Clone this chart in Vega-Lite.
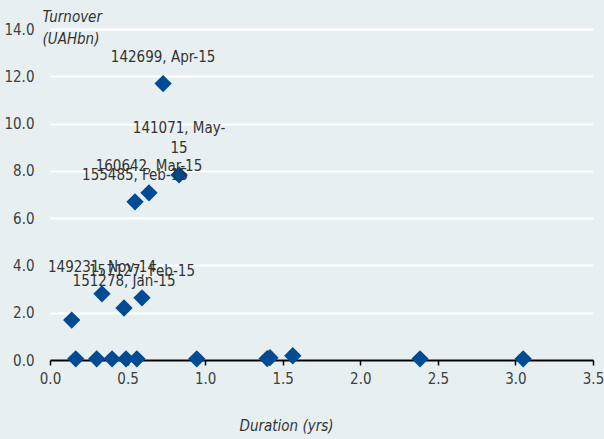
{
  "$schema": "https://vega.github.io/schema/vega-lite/v6.json",
  "width": 543,
  "height": 331,
  "autosize": "none",
  "padding": {"left": 50, "top": 29, "right": 11, "bottom": 79},
  "background": "#e7eff1",
  "config": {
    "view": {"stroke": null},
    "font": "DejaVu Sans Condensed"
  },
  "data": {
    "values": [
      {"duration": 0.14, "turnover": 1.69, "label": ""},
      {"duration": 0.335, "turnover": 2.8, "label": "149231, Nov-14"},
      {"duration": 0.477, "turnover": 2.2, "label": "151278, Jan-15"},
      {"duration": 0.593, "turnover": 2.63, "label": "157127, Feb-15"},
      {"duration": 0.548, "turnover": 6.69, "label": "155485, Feb-15"},
      {"duration": 0.638, "turnover": 7.07, "label": "160642, Mar-15"},
      {"duration": 0.832, "turnover": 7.83, "label": "141071, May-\n15"},
      {"duration": 0.729, "turnover": 11.69, "label": "142699, Apr-15"},
      {"duration": 0.166, "turnover": 0.05, "label": ""},
      {"duration": 0.301, "turnover": 0.05, "label": ""},
      {"duration": 0.40, "turnover": 0.05, "label": ""},
      {"duration": 0.49, "turnover": 0.05, "label": ""},
      {"duration": 0.56, "turnover": 0.05, "label": ""},
      {"duration": 0.946, "turnover": 0.05, "label": ""},
      {"duration": 1.40, "turnover": 0.06, "label": ""},
      {"duration": 1.418, "turnover": 0.1, "label": ""},
      {"duration": 1.565, "turnover": 0.18, "label": ""},
      {"duration": 2.385, "turnover": 0.05, "label": ""},
      {"duration": 3.05, "turnover": 0.05, "label": ""}
    ]
  },
  "encoding": {
    "x": {
      "field": "duration",
      "type": "quantitative",
      "scale": {"domain": [0, 3.5], "nice": false, "zero": true},
      "axis": {
        "values": [0, 0.5, 1, 1.5, 2, 2.5, 3, 3.5],
        "format": ".1f",
        "grid": false,
        "labelFlush": false,
        "domainColor": "#000000",
        "domainWidth": 2,
        "tickColor": "#000000",
        "tickWidth": 1.5,
        "tickSize": 5,
        "labelPadding": 6,
        "labelFont": "DejaVu Sans Condensed",
        "labelFontSize": 15,
        "labelColor": "#404040",
        "title": "Duration (yrs)",
        "titleFont": "DejaVu Sans Condensed",
        "titleFontSize": 15,
        "titleFontStyle": "italic",
        "titleFontWeight": "normal",
        "titleColor": "#333333",
        "titleX": 236,
        "titleY": 70,
        "titleAlign": "center",
        "titleBaseline": "alphabetic"
      }
    },
    "y": {
      "field": "turnover",
      "type": "quantitative",
      "scale": {"domain": [0, 14], "nice": false},
      "axis": {
        "values": [0, 2, 4, 6, 8, 10, 12, 14],
        "format": ".1f",
        "grid": true,
        "labelFlush": false,
        "gridColor": "#ffffff",
        "gridWidth": 2,
        "domain": false,
        "ticks": false,
        "labelPadding": 16,
        "labelFont": "DejaVu Sans Condensed",
        "labelFontSize": 15,
        "labelColor": "#404040",
        "title": ["Turnover", "(UAHbn)"],
        "titleFont": "DejaVu Sans Condensed",
        "titleFontSize": 15,
        "titleFontStyle": "italic",
        "titleFontWeight": "normal",
        "titleColor": "#333333",
        "titleAngle": 0,
        "titleAlign": "left",
        "titleBaseline": "top",
        "titleLineHeight": 22,
        "titleX": -8,
        "titleY": -20
      }
    }
  },
  "layer": [
    {
      "mark": {"type": "point", "shape": "diamond", "filled": true, "size": 300, "color": "#004b93", "opacity": 1}
    },
    {
      "transform": [{"filter": "indexof(datum.label, '\\n') < 0"}],
      "mark": {
        "type": "text",
        "font": "DejaVu Sans Condensed",
        "fontSize": 15,
        "color": "#333333",
        "dy": -19,
        "baseline": "bottom",
        "align": "center"
      },
      "encoding": {"text": {"field": "label"}}
    },
    {
      "transform": [{"filter": "indexof(datum.label, '\\n') >= 0"}],
      "mark": {
        "type": "text",
        "font": "DejaVu Sans Condensed",
        "fontSize": 15,
        "color": "#333333",
        "dy": -39,
        "baseline": "bottom",
        "align": "center",
        "lineBreak": "\n",
        "lineHeight": 20
      },
      "encoding": {"text": {"field": "label"}}
    }
  ]
}
